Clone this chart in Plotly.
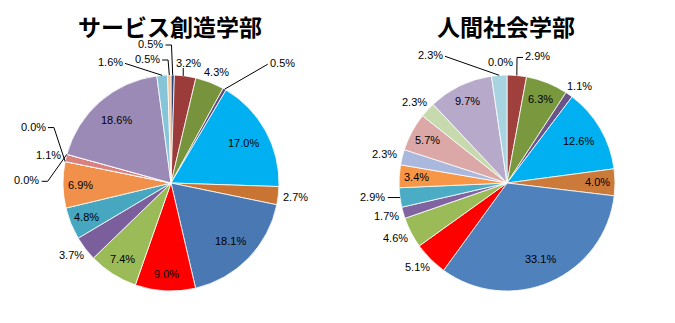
import math
import plotly.graph_objects as go

# ---------------- data ----------------
categories = ["区分%d" % i for i in range(1, 19)]

left_title = "サービス創造学部"
left_values = [0.5, 3.2, 4.3, 0.5, 17.0, 2.7, 18.1, 9.0, 7.4, 3.7, 4.8, 6.9, 0.0, 1.1, 0.0, 18.6, 1.6, 0.5]
left_text = ["0.5%", "3.2%", "4.3%", "0.5%", "17.0%", "2.7%", "18.1%", "9.0%", "7.4%", "3.7%",
             "4.8%", "6.9%", "0.0%", "1.1%", "0.0%", "18.6%", "1.6%", "0.5%"]

right_title = "人間社会学部"
right_values = [0.0, 2.9, 6.3, 1.1, 12.6, 4.0, 33.1, 5.1, 4.6, 1.7, 2.9, 3.4, 2.3, 5.7, 2.3, 9.7, 2.3]
right_text = ["0.0%", "2.9%", "6.3%", "1.1%", "12.6%", "4.0%", "33.1%", "5.1%", "4.6%", "1.7%",
              "2.9%", "3.4%", "2.3%", "5.7%", "2.3%", "9.7%", "2.3%"]

# ---------------- style ----------------
left_colors = ["#24467A", "#9B3C3A", "#77933C", "#5F4A7D", "#00B0F0", "#C97432", "#4A78B2",
               "#FF0000", "#9BBB59", "#7B5E9C", "#47A6C0", "#F0904A", "#A6B7DE", "#D8817F",
               "#C5D9A8", "#9C8AB6", "#86C5D8", "#FAC090"]
right_colors = ["#24467A", "#A0403D", "#7A993F", "#6A5388", "#00B0F0", "#CC7A39", "#4F81BD",
                "#FF0000", "#9BBB59", "#8064A2", "#4BACC6", "#F79646", "#A9B8DC", "#DBA8A7",
                "#C7DAAD", "#B7A9CA", "#A8D3E0"]

# label mode: 'in' inside, 'out' outside (no line), ('line', dx, dy, stub) text offset from edge with leader
left_modes = [("line", -22, -31, 6), ("line", 3, -13, "down"), "out", ("line", 58, -26, 0), "in", "out",
              "in", "in", "in", "out", "in", "in", ("line", -32, -35, 6), "out", ("line", -40, 26, 6),
              "in", ("line", -52, -13, 0), ("line", -22, -16, 6)]
right_modes = [("free", -7, -13, None), ("line", 21, -19, 6), "in", "out", "in", "in", "in", "out", "out",
               "out", ("line", -27, -1, 0), "in", "out", "in", "out", "in", ("line", -69, -20, 0)]

W, H = 675, 323
R = 108
CY = 183
LEFT_CX, RIGHT_CX = 171, 507
FONT = "Liberation Sans"
FS = 11


def px(x):
    return x / W


def py(y):
    return 1 - y / H


def text_w(s):
    return len(s) * 6.4


fig = go.Figure()
annotations = []
shapes = []


def add_pie(cx, values, texts, colors, modes, title, names):
    fig.add_trace(go.Pie(
        values=values, labels=names, sort=False, direction="clockwise", rotation=0,
        textinfo="none", hoverinfo="label+percent",
        marker=dict(colors=colors, line=dict(color="white", width=0.8)),
        domain=dict(x=[px(cx - R), px(cx + R)], y=[py(CY + R), py(CY - R)]),
        showlegend=False,
    ))
    total = sum(values)
    cum = 0.0
    for v, t, m in zip(values, texts, modes):
        mid = (cum + v / 2) / total * 360.0
        cum += v
        s, c = math.sin(math.radians(mid)), math.cos(math.radians(mid))
        ex, ey = cx + R * s, CY - R * c
        w = text_w(t)
        if m == "in":
            f = 0.77 if v / total >= 0.12 else 0.84
            tx, ty = cx + f * R * s, CY - f * R * c
        elif m == "out":
            g = 5
            tx, ty = ex + s * (w / 2 + g), ey - c * (6 + g)
        else:
            kind, dx, dy, stub = m
            tx, ty = ex + dx, ey + dy
            if kind == "line":
                if stub == "down":
                    path = "M %f,%f L %f,%f" % (px(ex - 2), py(ty + 5), px(ex - 2), py(ey))
                else:
                    side = 1 if ex > tx else -1
                    sx = tx + side * (w / 2 + 2)
                    st = min(stub, abs(ex - sx))
                    bx = sx + side * st
                    path = "M %f,%f L %f,%f L %f,%f" % (px(sx), py(ty + 1), px(bx), py(ty + 1), px(ex), py(ey))
                shapes.append(dict(type="path", path=path, xref="paper", yref="paper",
                                   line=dict(color="#000000", width=1)))
        annotations.append(dict(x=px(tx), y=py(ty), xref="paper", yref="paper", text=t,
                                showarrow=False, xanchor="center", yanchor="middle",
                                font=dict(family=FONT, size=FS, color="#000000")))
    annotations.append(dict(x=px(cx - 1), y=py(26), xref="paper", yref="paper", text="<b>%s</b>" % title,
                            showarrow=False, xanchor="center", yanchor="middle",
                            font=dict(family="Noto Sans CJK JP", size=23, color="#000000")))


add_pie(LEFT_CX, left_values, left_text, left_colors, left_modes, left_title, categories)
add_pie(RIGHT_CX, right_values, right_text, right_colors, right_modes, right_title, categories[:17])

fig.update_layout(
    width=W, height=H, margin=dict(l=0, r=0, t=0, b=0),
    paper_bgcolor="white", plot_bgcolor="white",
    annotations=annotations, shapes=shapes,
)

fig.write_html("out.html")
